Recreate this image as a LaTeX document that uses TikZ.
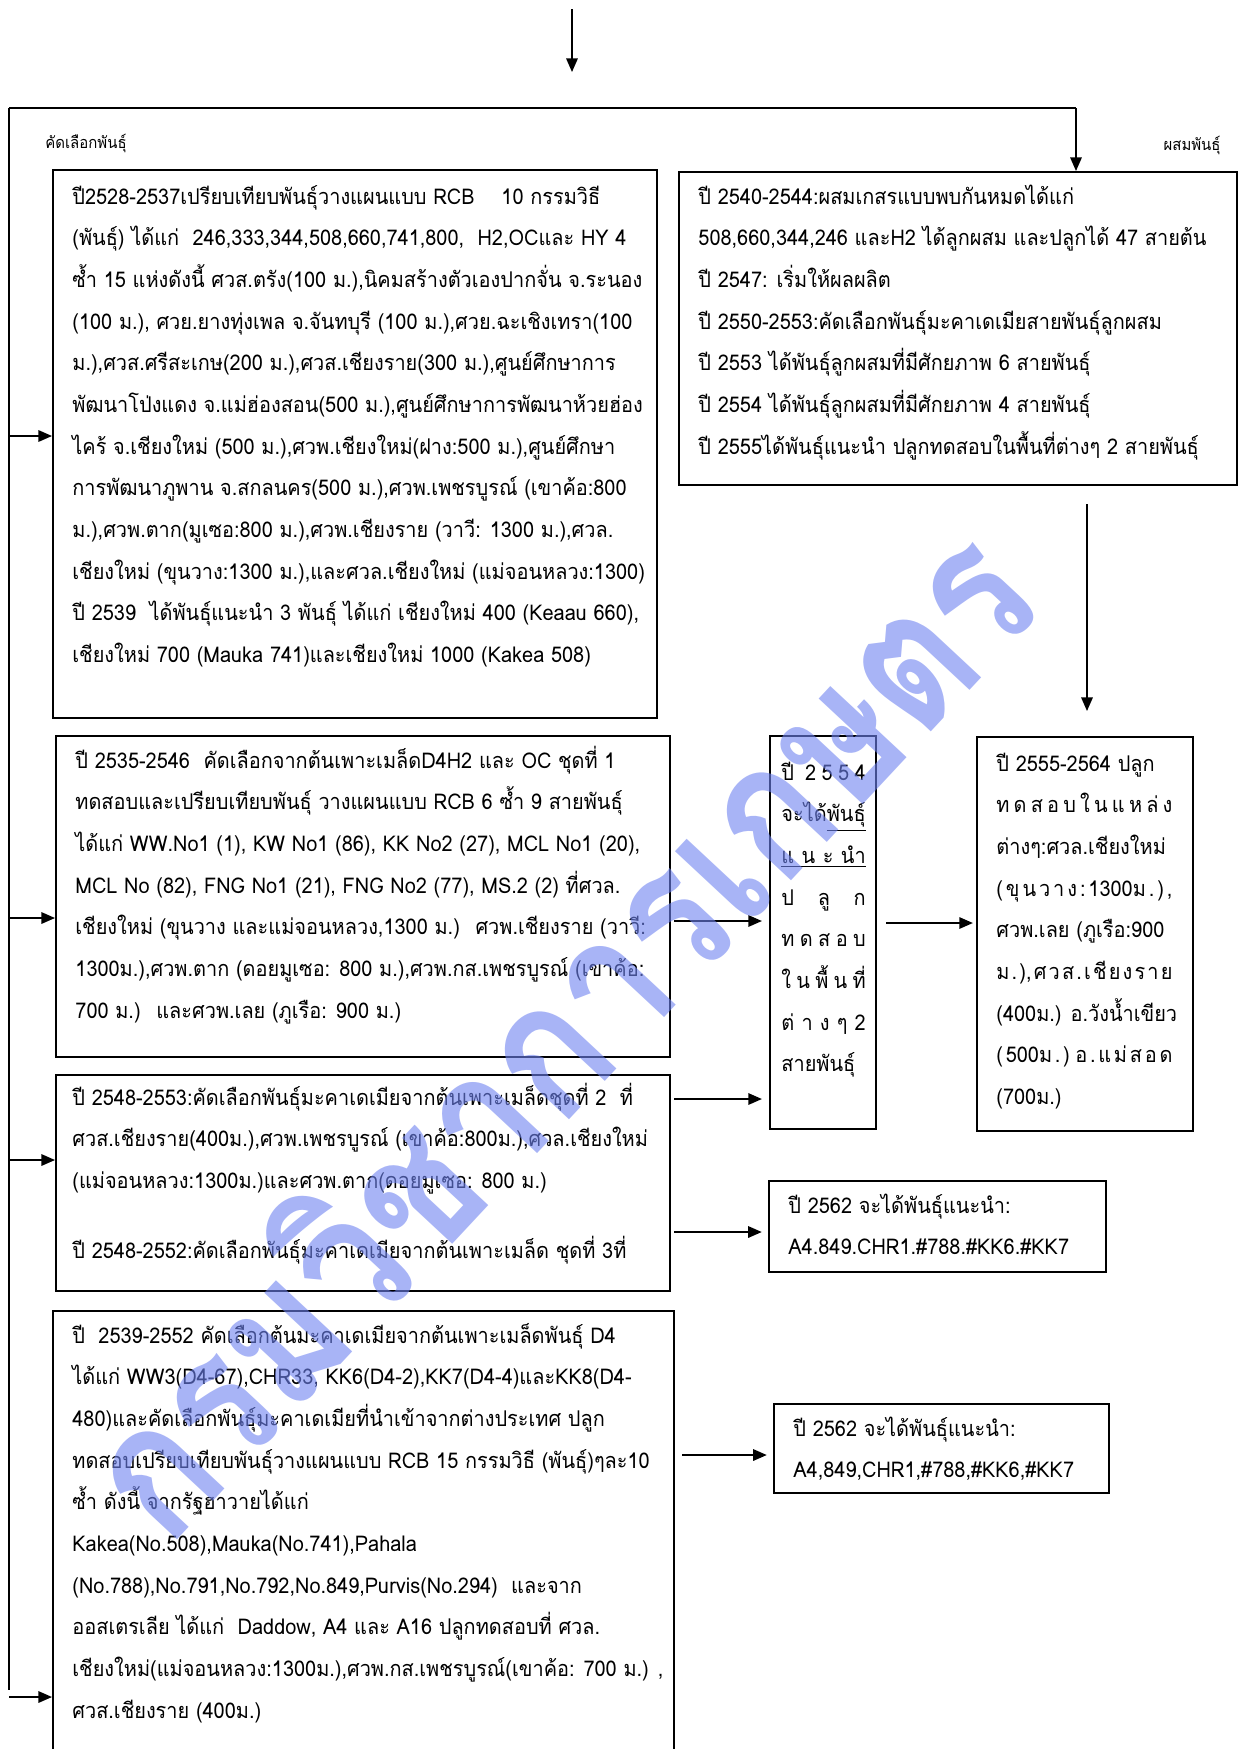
\documentclass[tikz,border=0pt]{standalone}
\usepackage{fontspec}
\setmainfont[Script=Thai,FakeStretch=0.92]{Loma}
\newfontfamily\wmfont[Script=Thai,FakeStretch=0.85]{Loma}
\usetikzlibrary{arrows.meta,calc}
\definecolor{wmblue}{RGB}{110,130,240}
\tikzset{
  bx/.style={draw, line width=1pt, inner sep=0pt, anchor=north west},
  tx/.style={anchor=base west, inner sep=0pt, font=\fontsize{10.4}{20}\selectfont},
  lab/.style={inner sep=0pt, font=\fontsize{7.8}{10}\selectfont},
  arr/.style={line width=0.75pt, -{Triangle[length=6.5pt,width=5.5pt]}},
  ln/.style={line width=0.75pt},
  wm/.style={inner sep=0pt, text=wmblue, opacity=0.6, font=\wmfont\bfseries\fontsize{90}{90}\selectfont}
}
\newcommand\bxat[5]{\node[bx, minimum width={(#4-#2)*0.48pt}, minimum height={(#5-#3)*0.48pt}] (#1) at (#2,#3) {};}
\newcommand\spr[2]{\makebox[#1][s]{#2}}
\newcommand\tb[1]{\parbox[t]{320pt}{\raggedright #1}}
\begin{document}
\begin{tikzpicture}[x=0.48pt,y=-0.48pt]
\useasboundingbox (0,0) rectangle (1240,1749);

% boxes
\bxat{b1}{52}{169}{656}{717}
\bxat{b2}{678}{171}{1236}{484}
\bxat{b3}{55}{735}{669}{1056}
\bxat{bn}{769}{735}{875}{1128}
\bxat{br}{976}{736}{1192}{1130}
\bxat{b4}{55}{1074}{669}{1290}
\bxat{bA}{768}{1180}{1105}{1271}
\bxat{b5}{52}{1310}{673}{1780}
\bxat{bB}{773}{1403}{1108}{1492}

% labels
\node[lab, anchor=west] (l1) at (45,143) {คัดเลือกพันธุ์};
\node[lab, anchor=east] (l2) at (1221,145) {ผสมพันธุ์};

% texts
\node[tx] (t1) at (72,204) {\tb{ปี2528-2537เปรียบเทียบพันธุ์วางแผนแบบ RCB \ \ \ 10 กรรมวิธี\\
(พันธุ์) ได้แก่ \ 246,333,344,508,660,741,800, \ H2,OCและ HY 4\\
ซ้ำ 15 แห่งดังนี้ ศวส.ตรัง(100 ม.),นิคมสร้างตัวเองปากจั่น จ.ระนอง\\
(100 ม.), ศวย.ยางทุ่งเพล จ.จันทบุรี (100 ม.),ศวย.ฉะเชิงเทรา(100\\
ม.),ศวส.ศรีสะเกษ(200 ม.),ศวส.เชียงราย(300 ม.),ศูนย์ศึกษาการ\\
พัฒนาโป่งแดง จ.แม่ฮ่องสอน(500 ม.),ศูนย์ศึกษาการพัฒนาห้วยฮ่อง\\
ไคร้ จ.เชียงใหม่ (500 ม.),ศวพ.เชียงใหม่(ฝาง:500 ม.),ศูนย์ศึกษา\\
การพัฒนาภูพาน จ.สกลนคร(500 ม.),ศวพ.เพชรบูรณ์ (เขาค้อ:800\\
ม.),ศวพ.ตาก(มูเซอ:800 ม.),ศวพ.เชียงราย (วาวี: 1300 ม.),ศวล.\\
เชียงใหม่ (ขุนวาง:1300 ม.),และศวล.เชียงใหม่ (แม่จอนหลวง:1300)\\
ปี 2539 \ ได้พันธุ์แนะนำ 3 พันธุ์ ได้แก่ เชียงใหม่ 400 (Keaau 660),\\
เชียงใหม่ 700 (Mauka 741)และเชียงใหม่ 1000 (Kakea 508)}};

\node[tx] (t2) at (698,204) {\tb{ปี 2540-2544:ผสมเกสรแบบพบกันหมดได้แก่\\
508,660,344,246 และH2 ได้ลูกผสม และปลูกได้ 47 สายต้น\\
ปี 2547: เริ่มให้ผลผลิต\\
ปี 2550-2553:คัดเลือกพันธุ์มะคาเดเมียสายพันธุ์ลูกผสม\\
ปี 2553 ได้พันธุ์ลูกผสมที่มีศักยภาพ 6 สายพันธุ์\\
ปี 2554 ได้พันธุ์ลูกผสมที่มีศักยภาพ 4 สายพันธุ์\\
ปี 2555ได้พันธุ์แนะนำ ปลูกทดสอบในพื้นที่ต่างๆ 2 สายพันธุ์}};

\node[tx] (t3) at (75,768) {\tb{ปี 2535-2546 \ คัดเลือกจากต้นเพาะเมล็ดD4H2 และ OC ชุดที่ 1\\
ทดสอบและเปรียบเทียบพันธุ์ วางแผนแบบ RCB 6 ซ้ำ 9 สายพันธุ์\\
ได้แก่ WW.No1 (1), KW No1 (86), KK No2 (27), MCL No1 (20),\\
MCL No (82), FNG No1 (21), FNG No2 (77), MS.2 (2) ที่ศวล.\\
เชียงใหม่ (ขุนวาง และแม่จอนหลวง,1300 ม.) \ ศวพ.เชียงราย (วาวี:\\
1300ม.),ศวพ.ตาก (ดอยมูเซอ: 800 ม.),ศวพ.กส.เพชรบูรณ์ (เขาค้อ:\\
700 ม.) \ และศวพ.เลย (ภูเรือ: 900 ม.)}};

\node[tx] (t4) at (72,1105) {\tb{ปี 2548-2553:คัดเลือกพันธุ์มะคาเดเมียจากต้นเพาะเมล็ดชุดที่ 2 \ ที่\\
ศวส.เชียงราย(400ม.),ศวพ.เพชรบูรณ์ (เขาค้อ:800ม.),ศวล.เชียงใหม่\\
(แม่จอนหลวง:1300ม.)และศวพ.ตาก(ดอยมูเซอ: 800 ม.)}};
\node[tx] (t4b) at (72,1258) {ปี 2548-2552:คัดเลือกพันธุ์มะคาเดเมียจากต้นเพาะเมล็ด ชุดที่ 3ที่};

\node[tx] (t5) at (72,1343) {\tb{ปี \ 2539-2552 คัดเลือกต้นมะคาเดเมียจากต้นเพาะเมล็ดพันธุ์ D4\\
ได้แก่ WW3(D4-67),CHR33, KK6(D4-2),KK7(D4-4)และKK8(D4-\\
480)และคัดเลือกพันธุ์มะคาเดเมียที่นำเข้าจากต่างประเทศ ปลูก\\
ทดสอบเปรียบเทียบพันธุ์วางแผนแบบ RCB 15 กรรมวิธี (พันธุ์)ๆละ10\\
ซ้ำ ดังนี้ จากรัฐฮาวายได้แก่\\
Kakea(No.508),Mauka(No.741),Pahala\\
(No.788),No.791,No.792,No.849,Purvis(No.294) \ และจาก\\
ออสเตรเลีย ได้แก่ \ Daddow, A4 และ A16 ปลูกทดสอบที่ ศวล.\\
เชียงใหม่(แม่จอนหลวง:1300ม.),ศวพ.กส.เพชรบูรณ์(เขาค้อ: 700 ม.) ,\\
ศวส.เชียงราย (400ม.)}};

\node[tx] (tn) at (781,780) {\tb{\spr{40.5pt}{ปี\hfill\hfill 2\hfill 5\hfill 5\hfill 4}\\
จะได้\underline{พันธุ์}\\
\underline{\spr{40.5pt}{แ\hfill น\hfill ะ\hfill นำ}}\\
\spr{40.5pt}{ป\hfill ลู\hfill ก}\\
\spr{40.5pt}{ท\hfill ด\hfill ส\hfill อ\hfill บ}\\
\spr{40.5pt}{ใ\hfill น\hfill พื้\hfill น\hfill ที่}\\
\spr{40.5pt}{ต่\hfill า\hfill ง\hfill ๆ\hfill 2}\\
สายพันธุ์}};

\node[tx] (trt) at (996,771) {\tb{ปี 2555-2564 ปลูก\\
\spr{84.5pt}{ท\hfill ด\hfill ส\hfill อ\hfill บ\hfill ใ\hfill น\hfill แ\hfill ห\hfill ล่\hfill ง}\\
ต่างๆ:ศวล.เชียงใหม่\\
\spr{84.5pt}{(\hfill ขุ\hfill น\hfill ว\hfill า\hfill ง\hfill :\hfill 1300ม\hfill .\hfill )\hfill ,}\\
ศวพ.เลย (ภูเรือ:900\\
\spr{84.5pt}{ม\hfill .\hfill ),\hfill ศ\hfill ว\hfill ส\hfill .\hfill เ\hfill ชี\hfill ย\hfill ง\hfill ร\hfill า\hfill ย}\\
(400ม.) อ.วังน้ำเขียว\\
\spr{84.5pt}{(\hfill 500ม\hfill .\hfill )\hfill \hfill อ\hfill .\hfill แ\hfill ม่\hfill ส\hfill อ\hfill ด}\\
(700ม.)}};

\node[tx] (tA) at (788,1213) {\tb{ปี 2562 จะได้พันธุ์แนะนำ:\\ A4.849.CHR1.\#788.\#KK6.\#KK7}};
\node[tx] (tB) at (793,1436) {\tb{ปี 2562 จะได้พันธุ์แนะนำ:\\ A4,849,CHR1,\#788,\#KK6,\#KK7}};

% connectors
\coordinate (t0) at (572,9);
\coordinate (t1e) at (572,72);
\coordinate (tl) at (9,108);
\coordinate (trr) at (1076,108);
\coordinate (bl) at (9,1690);
\draw[arr] (t0) -- (t1e);
\draw[line width=1.2pt] (tl) -- (trr);
\draw[ln] (tl) -- (bl);
\draw[arr] (trr) -- (trr |- b2.north);

\draw[arr] (tl |- 0,436) -- (b1.west |- 0,436);
\draw[arr] (tl |- 0,918) -- (b3.west |- 0,918);
\draw[arr] (tl |- 0,1160) -- (b4.west |- 0,1160);
\draw[arr] (tl |- 0,1697) -- (b5.west |- 0,1697);

\draw[arr, shorten <=8.6pt, shorten >=12pt] (b2.south -| 1087,0) -- (br.north -| 1087,0);
\draw[arr, shorten <=1.5pt, shorten >=3.4pt] (b3.east |- 0,921) -- (bn.west |- 0,921);
\draw[arr, shorten <=4.3pt, shorten >=1.5pt] (bn.east |- 0,923) -- (br.west |- 0,923);
\draw[arr, shorten <=1.5pt, shorten >=3.4pt] (b4.east |- 0,1099) -- (bn.west |- 0,1099);
\draw[arr, shorten <=1.5pt, shorten >=3pt] (b4.east |- 0,1232) -- (bA.west |- 0,1232);
\draw[arr, shorten <=3.4pt, shorten >=3pt] (b5.east |- 0,1455) -- (bB.west |- 0,1455);

% watermark
\node[wm, rotate=47] (wmk) at (552,1026) {กรมวิชาการเกษตร};
\end{tikzpicture}
\end{document}
